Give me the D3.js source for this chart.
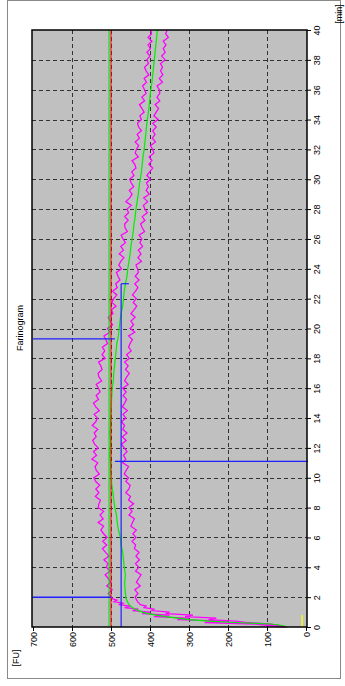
<!DOCTYPE html>
<html><head><meta charset="utf-8">
<script src="https://cdn.jsdelivr.net/npm/d3@7"></script>
<style>body{margin:0;background:#fff}text{font-family:"Liberation Sans",Arial,sans-serif}</style>
</head><body>
<svg id="c" width="345" height="686"></svg>
<script>
const timeTicks = [0,2,4,6,8,10,12,14,16,18,20,22,24,26,28,30,32,34,36,38,40];
const fuTicks = [0,100,200,300,400,500,600,700];

const riseTime  = [0,0.1,0.2,0.3,0.4,0.5,0.6,0.7,0.8,0.9,1.0,1.1,1.2,1.3,1.4,1.5,1.6,1.7,1.8,1.9];
const riseUpper = [55,95,130,260,200,330,300,390,350,420,400,445,430,465,450,480,470,492,485,497];
const riseLower = [50,70,95,150,180,250,230,310,290,360,350,395,390,415,410,425,428,432,434,436];
const riseMeanTime = [0,0.1,0.2,0.3,0.4,0.5,0.6,0.7,0.8,0.9,1.0,1.2,1.4,1.6,1.8];
const riseMean  = [50,60,90,180,250,300,330,360,385,405,420,440,450,456,460];

const bandTime = [2,2.25,2.5,2.75,3,3.25,3.5,3.75,4,4.25,4.5,4.75,5,5.25,5.5,5.75,6,6.25,6.5,6.75,7,7.25,7.5,7.75,8,8.25,8.5,8.75,9,9.25,9.5,9.75,10,10.25,10.5,10.75,11,11.25,11.5,11.75,12,12.25,12.5,12.75,13,13.25,13.5,13.75,14,14.25,14.5,14.75,15,15.25,15.5,15.75,16,16.25,16.5,16.75,17,17.25,17.5,17.75,18,18.25,18.5,18.75,19,19.25,19.5,19.75,20,20.25,20.5,20.75,21,21.25,21.5,21.75,22,22.25,22.5,22.75,23,23.25,23.5,23.75,24,24.25,24.5,24.75,25,25.25,25.5,25.75,26,26.25,26.5,26.75,27,27.25,27.5,27.75,28,28.25,28.5,28.75,29,29.25,29.5,29.75,30,30.25,30.5,30.75,31,31.25,31.5,31.75,32,32.25,32.5,32.75,33,33.25,33.5,33.75,34,34.25,34.5,34.75,35,35.25,35.5,35.75,36,36.25,36.5,36.75,37,37.25,37.5,37.75,38,38.25,38.5,38.75,39,39.25,39.5,39.75,40];
const upperFU = [499,507,497,511, 501,507,515,502, 512,508,518,505, 514,522,511,521, 510,519,526,519, 533,520,528,519, 533,531,527,540, 531,539,529,539, 544,530,538,541, 534,549,537,545, 533,542,547,538, 543,534,548,539, 535,543,530,539, 545,532,538,528, 532,538,524,531, 533,523,526,532, 515,523,516,522, 509,513,518,503, 509,496,502,507, 495,499,487,498, 493,485,496,484, 488,477,482,486, 473,480,475,467, 479,468,475,463, 469,474,458,464, 465,456,465,455, 459,448,462,452, 446,453,442,448, 452,441,447,436, 439,446,430,438, 435,429,438,427, 433,422,429,432, 422,426,415,421, 427,414,421,410, 414,419,409,415, 403,410,414,404, 408,400,408,399, 405,395,405,396, 398];
const lowerFU = [438,431,439,425, 435,429,423,437, 429,437,427,436, 428,440,437,446, 436,444,435,449, 445,440,454,446, 454,442,455,450, 462,454,451,462, 455,466,461,455, 470,462,468,459, 466,473,461,471, 459,470,465,473, 462,469,458,471, 465,460,469,461, 470,456,465,460, 453,463,456,465, 453,460,448,455, 451,445,455,439, 451,442,449,438, 449,441,434,443, 435,445,437,431, 439,428,438,430, 432,436,422,431, 423,430,419,426, 421,428,414,420, 424,413,420,407, 413,417,406,416, 402,410,404,409, 399,408,401,393, 403,395,402,390, 393,399,386,394, 387,393,384,393, 379,390,384,378, 387,375,382,375, 376,382,368,376, 367,373,368,373, 361,370,361,366, 359,366,353,360, 356];
const meanTime = [2,2.5,3,3.5,4,4.5,5,5.5,6,6.5,7,7.5,8,8.5,9,9.5,10,10.5,11,11.5,12,12.5,13,13.5,14,14.5,15,15.5,16,16.5,17,17.5,18,18.5,19,19.5,20,20.5,21,21.5,22,22.5,23,23.5,24,24.5,25,25.5,26,26.5,27,27.5,28,28.5,29,29.5,30,30.5,31,31.5,32,32.5,33,33.5,34,34.5,35,35.5,36,36.5,37,37.5,38,38.5,39,39.5,40];
const meanFU = [462,464,465,463,466,468,470,474,476,481,484,486,490,493,495,498,499,501,501,503,502,501,503,501,501,500,499,498,497,494,493,491,489,487,485,481,479,477,474,470,468,466,463,459,457,454,451,449,446,443,441,438,436,433,430,428,425,422,420,418,415,413,411,409,407,404,402,400,398,395,393,391,389,387,385,383,381];

const arrival = 2.0, development = 11.1, departure = 19.3, softTime = 23.0;
const consistGreen = 505, consistRed = 500, softFU = 474;
const markerFU = 10, markerTime = 0.8;

const svg = d3.select("#c");
const x = d3.scaleLinear().domain([0,700]).range([306,33]);
const y = d3.scaleLinear().domain([0,40]).range([627,30]);

svg.append("rect").attr("x",7.5).attr("y",0.5).attr("width",333).attr("height",678)
  .attr("fill","#fff").attr("stroke","#888").attr("stroke-width",1);
svg.append("rect").attr("x",32).attr("y",30).attr("width",275).attr("height",597)
  .attr("fill","#c0c0c0");

const grid = svg.append("g").attr("stroke","#333").attr("stroke-width",1).attr("stroke-dasharray","4,3");
grid.selectAll("line.v").data(fuTicks.filter(d=>d>0 && d<700)).join("line")
  .attr("x1",d=>Math.round(x(d))+0.5).attr("x2",d=>Math.round(x(d))+0.5).attr("y1",30).attr("y2",627);
grid.selectAll("line.h").data(timeTicks.filter(d=>d>0 && d<40)).join("line")
  .attr("y1",d=>Math.round(y(d))+0.5).attr("y2",d=>Math.round(y(d))+0.5).attr("x1",32).attr("x2",307);

const lineT = d3.line().x(d=>x(d[1])).y(d=>y(d[0]));
const up = riseTime.map((t,i)=>[t,riseUpper[i]]).concat(bandTime.map((t,i)=>[t,upperFU[i]]));
const lo = riseTime.map((t,i)=>[t,riseLower[i]]).concat(bandTime.map((t,i)=>[t,lowerFU[i]]));
const me = riseMeanTime.map((t,i)=>[t,riseMean[i]]).concat(meanTime.map((t,i)=>[t,meanFU[i]]));
svg.append("path").datum(up).attr("d",lineT).attr("fill","none").attr("stroke","#ff00ff").attr("stroke-width",1.3);
svg.append("path").datum(lo).attr("d",lineT).attr("fill","none").attr("stroke","#ff00ff").attr("stroke-width",1.3);
svg.append("path").datum(me).attr("d",lineT).attr("fill","none").attr("stroke","#00ee00").attr("stroke-width",1.2);

svg.append("line").attr("x1",x(consistGreen)).attr("x2",x(consistGreen)).attr("y1",30).attr("y2",626).attr("stroke","#00dd00");
svg.append("line").attr("x1",x(consistRed)).attr("x2",x(consistRed)).attr("y1",30).attr("y2",626).attr("stroke","#ff0000");
svg.append("line").attr("x1",x(markerFU)).attr("x2",x(markerFU)).attr("y1",y(0)).attr("y2",y(markerTime)).attr("stroke","#ffff00").attr("stroke-width",1.3);
const blue = "#2020ff";
svg.append("line").attr("x1",x(700)).attr("x2",x(consistRed)).attr("y1",y(arrival)).attr("y2",y(arrival)).attr("stroke",blue).attr("stroke-width",1.5);
svg.append("line").attr("x1",x(700)).attr("x2",x(490)).attr("y1",y(departure)).attr("y2",y(departure)).attr("stroke",blue).attr("stroke-width",1.2);
svg.append("line").attr("x1",x(490)).attr("x2",308).attr("y1",y(development)).attr("y2",y(development)).attr("stroke",blue).attr("stroke-width",1.2);
svg.append("line").attr("x1",x(softFU)).attr("x2",x(softFU)).attr("y1",y(0)).attr("y2",y(softTime)).attr("stroke",blue).attr("stroke-width",1.2);
svg.append("line").attr("x1",x(softFU)).attr("x2",x(softFU-20)).attr("y1",y(softTime)).attr("y2",y(softTime)).attr("stroke",blue).attr("stroke-width",1.2);

svg.append("rect").attr("x",32).attr("y",30).attr("width",275).attr("height",597)
  .attr("fill","none").attr("stroke","#000").attr("stroke-width",1.5);

const ax = svg.append("g").attr("transform","translate(0,627)")
  .call(d3.axisBottom(x).tickValues(fuTicks).tickSize(4).tickFormat(d3.format("d")));
ax.select(".domain").remove();
ax.selectAll("text").attr("transform","rotate(-90)").attr("x",-5).attr("y",0).attr("dy","0.35em")
  .attr("text-anchor","end").attr("font-size",9).attr("fill","#000");

const ay = svg.append("g").attr("transform","translate(307,0)")
  .call(d3.axisRight(y).tickValues(timeTicks).tickSize(4).tickFormat(d3.format("d")));
ay.select(".domain").remove();
ay.selectAll("text").attr("transform","translate(13,0) rotate(-90)").attr("x",0).attr("y",0).attr("dy","0")
  .attr("text-anchor","middle").attr("font-size",9).attr("fill","#000");

svg.append("text").attr("transform","translate(19,658) rotate(-90)").attr("text-anchor","middle")
  .attr("font-size",9).text("[FU]");
svg.append("text").attr("transform","translate(342,14) rotate(-90)").attr("text-anchor","middle")
  .attr("font-size",9).text("[min]");
svg.append("text").attr("transform","translate(23,328) rotate(-90)").attr("text-anchor","middle")
  .attr("font-size",9).text("Farinogram");
</script>
</body></html>
